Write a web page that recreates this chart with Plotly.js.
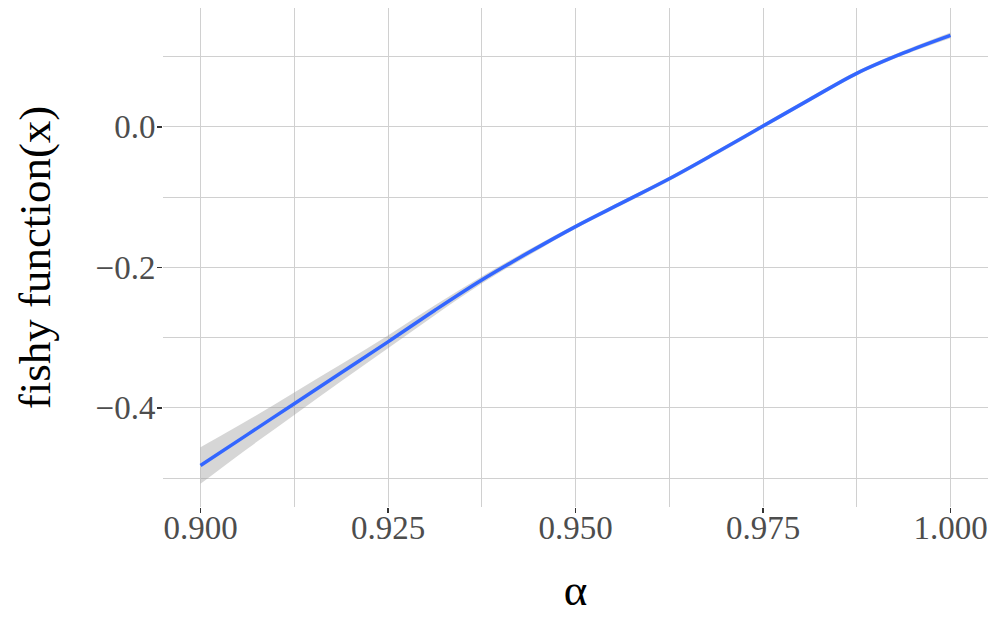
<!DOCTYPE html>
<html>
<head>
<meta charset="utf-8">
<script src="https://cdn.plot.ly/plotly-3.0.1.min.js"></script>
<style>
  html, body { margin: 0; padding: 0; background: #fff; }
  #grafico { width: 997px; height: 623px; }
</style>
</head>
<body>
<div id="grafico"></div>
<script>
// Valores (curva suavizada y su banda)
const alfa = [0.900, 0.90625, 0.9125, 0.91875, 0.925, 0.93125, 0.9375, 0.94375, 0.950,
              0.95625, 0.9625, 0.96875, 0.975, 0.98125, 0.9875, 0.99375, 1.000];
const ajuste = [-0.482, -0.438, -0.394, -0.350, -0.306, -0.261, -0.218, -0.179, -0.142,
                -0.108, -0.074, -0.037, 0.001, 0.039, 0.076, 0.105, 0.130];
const mediaBanda = [0.026, 0.020, 0.016, 0.012, 0.009, 0.007, 0.005, 0.004, 0.003,
                    0.003, 0.003, 0.003, 0.003, 0.003, 0.003, 0.003, 0.004];

const inferior = ajuste.map((v, i) => v - mediaBanda[i]);
const superior = ajuste.map((v, i) => v + mediaBanda[i]);

const fuente = "'Liberation Serif', 'Times New Roman', serif";

let datos = [
  {
    x: alfa, y: inferior, type: 'scatter', mode: 'lines',
    line: { width: 0, shape: 'spline' }, hoverinfo: 'skip', showlegend: false
  },
  {
    x: alfa, y: superior, type: 'scatter', mode: 'lines', fill: 'tonexty',
    fillcolor: 'rgba(153,153,153,0.4)',
    line: { width: 0, shape: 'spline' }, hoverinfo: 'skip', showlegend: false
  },
  {
    x: alfa, y: ajuste, type: 'scatter', mode: 'lines',
    line: { color: '#3366FF', width: 3.5, shape: 'spline' }, showlegend: false
  }
];

let layout = {
  width: 997, height: 623,
  margin: { l: 163, r: 9, t: 8, b: 116 },
  paper_bgcolor: '#fff', plot_bgcolor: '#fff',
  font: { family: fuente, color: '#4D4D4D' },
  xaxis: {
    range: [0.895, 1.005],
    tick0: 0.9, dtick: 0.025, tickformat: '.3f',
    ticks: 'outside', ticklen: 5, tickwidth: 1.5, tickcolor: '#333',
    ticklabelstandoff: -14,
    tickfont: { family: fuente, size: 33, color: '#4D4D4D' },
    showgrid: true, gridcolor: '#D0D0D0', gridwidth: 1,
    minor: { tick0: 0.9, dtick: 0.0125, showgrid: true, gridcolor: '#D0D0D0', gridwidth: 1 },
    zeroline: false, showline: false,
    title: { text: 'α', font: { family: fuente, size: 45, color: '#000' }, standoff: 28 }
  },
  yaxis: {
    range: [-0.541, 0.169],
    tick0: 0, dtick: 0.2, tickformat: '.1f',
    ticks: 'outside', ticklen: 5, tickwidth: 1.5, tickcolor: '#333',
    ticklabelstandoff: -5,
    tickfont: { family: fuente, size: 33, color: '#4D4D4D' },
    showgrid: true, gridcolor: '#D0D0D0', gridwidth: 1,
    minor: { tick0: 0, dtick: 0.1, showgrid: true, gridcolor: '#D0D0D0', gridwidth: 1 },
    zeroline: false, showline: false,
    title: { text: 'fishy function(x)', font: { family: fuente, size: 45, color: '#000' }, standoff: 30 }
  }
};

Plotly.newPlot('grafico', datos, layout, { displayModeBar: false, staticPlot: true });
</script>
</body>
</html>
